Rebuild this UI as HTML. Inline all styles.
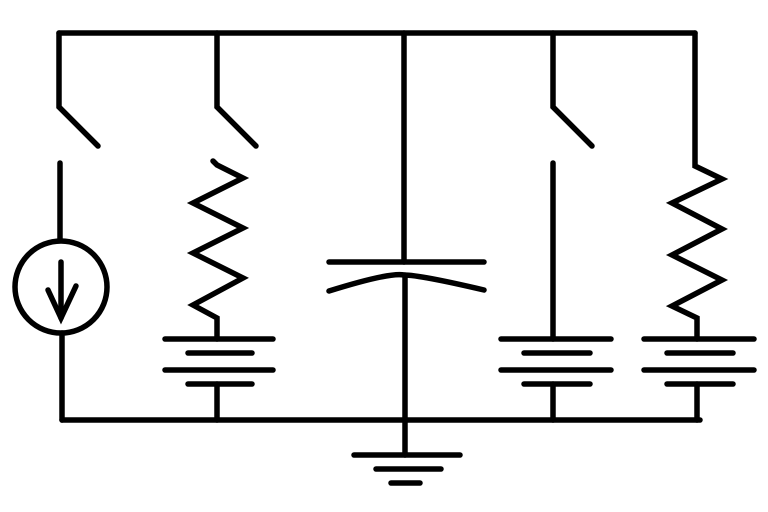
<!DOCTYPE html>
<html><head><style>html,body{margin:0;padding:0;background:#fff}svg{display:block}</style></head><body>
<svg width="768" height="512" viewBox="0 0 768 512" xmlns="http://www.w3.org/2000/svg">
<g stroke="#000" stroke-width="5.5" fill="none" stroke-linecap="round" stroke-linejoin="miter">
<!-- rails -->
<line x1="59" y1="33" x2="695" y2="33"/>
<line x1="62" y1="420" x2="700" y2="420"/>
<!-- branch 1 -->
<polyline points="59,33 59,107 98,146"/>
<line x1="60" y1="163" x2="60" y2="240"/>
<circle cx="61" cy="287" r="46"/>
<line x1="61" y1="262" x2="61" y2="318"/>
<polyline points="48,290 61,318 76,286"/>
<line x1="62" y1="333" x2="62" y2="420"/>
<!-- branch 2 -->
<polyline points="217,33 217,107 256,146"/>
<polyline points="213,161 217,165 243,178 193,203 243,228 193,253 243,278 193,305 217,318 217,339"/>
<line x1="165" y1="339" x2="273" y2="339"/>
<line x1="188" y1="353" x2="252" y2="353"/>
<line x1="165" y1="370" x2="273" y2="370"/>
<line x1="188" y1="384" x2="252" y2="384"/>
<line x1="217" y1="384" x2="217" y2="420"/>
<!-- capacitor -->
<line x1="404" y1="33" x2="404" y2="262"/>
<line x1="329" y1="262" x2="484" y2="262"/>
<path d="M329,291 Q390,272 404,275 Q420,275 484,290"/>
<line x1="405" y1="275" x2="405" y2="455"/>
<line x1="354" y1="455" x2="460" y2="455"/>
<line x1="376" y1="469" x2="441" y2="469"/>
<line x1="391" y1="483" x2="420" y2="483"/>
<!-- branch 4 -->
<polyline points="553,33 553,107 592,146"/>
<line x1="553" y1="163" x2="553" y2="339"/>
<line x1="501" y1="339" x2="611" y2="339"/>
<line x1="524" y1="353" x2="590" y2="353"/>
<line x1="501" y1="370" x2="611" y2="370"/>
<line x1="524" y1="384" x2="590" y2="384"/>
<line x1="553" y1="384" x2="553" y2="420"/>
<!-- branch 5 -->
<polyline points="695,33 695,166 722,179 672,203 722,229 672,255 722,280 672,306 697,318 697,339"/>
<line x1="644" y1="339" x2="754" y2="339"/>
<line x1="667" y1="353" x2="733" y2="353"/>
<line x1="644" y1="370" x2="754" y2="370"/>
<line x1="667" y1="384" x2="733" y2="384"/>
<line x1="697" y1="384" x2="697" y2="420"/>
</g>
</svg>
</body></html>
